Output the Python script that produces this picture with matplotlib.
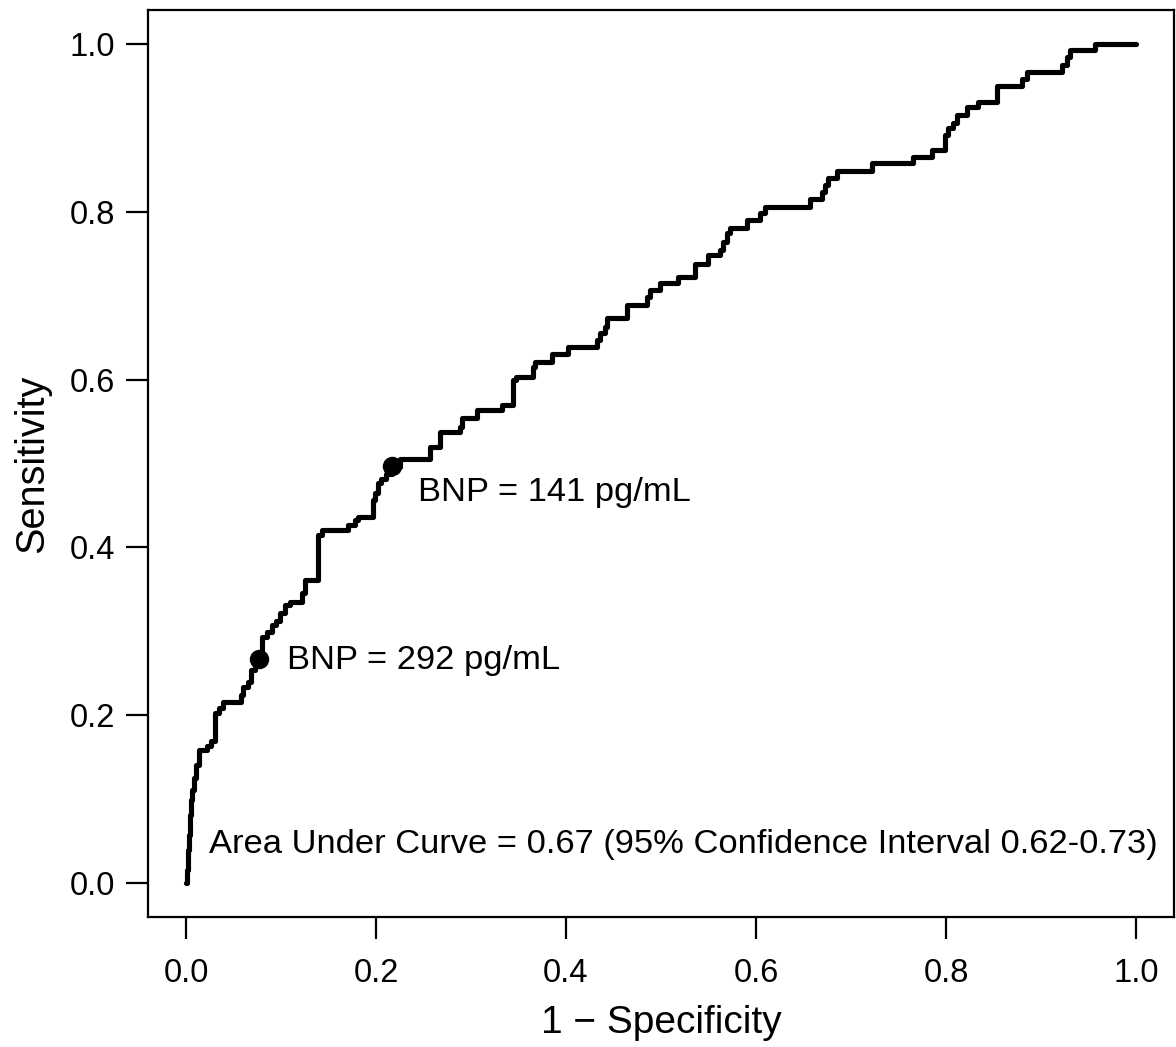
import matplotlib
matplotlib.use("Agg")
import matplotlib.pyplot as plt

plt.rcParams['font.family'] = ['Liberation Sans', 'DejaVu Sans']

# ROC curve: left end of every horizontal run
fpr = [0.000, 0.001, 0.002, 0.003, 0.004, 0.005, 0.006, 0.008, 0.011, 0.014,
       0.022, 0.026, 0.031, 0.035, 0.039, 0.058, 0.060, 0.065, 0.068, 0.073,
       0.077, 0.080, 0.085, 0.091, 0.095, 0.099, 0.104, 0.109, 0.122, 0.125,
       0.139, 0.143, 0.171, 0.178, 0.181, 0.197, 0.199, 0.202, 0.205, 0.211,
       0.217, 0.225, 0.257, 0.267, 0.288, 0.291, 0.306, 0.333, 0.344, 0.347,
       0.365, 0.367, 0.385, 0.402, 0.433, 0.436, 0.441, 0.443, 0.464, 0.485,
       0.488, 0.499, 0.518, 0.536, 0.549, 0.562, 0.565, 0.569, 0.573, 0.591,
       0.604, 0.609, 0.657, 0.669, 0.673, 0.676, 0.685, 0.722, 0.765, 0.785,
       0.799, 0.802, 0.807, 0.812, 0.822, 0.834, 0.854, 0.880, 0.885, 0.922,
       0.927, 0.931, 0.957, 1.000]
tpr = [0.000, 0.016, 0.040, 0.058, 0.082, 0.099, 0.111, 0.126, 0.141, 0.159,
       0.164, 0.170, 0.203, 0.209, 0.216, 0.224, 0.234, 0.240, 0.254, 0.262,
       0.267, 0.293, 0.299, 0.308, 0.312, 0.322, 0.332, 0.335, 0.346, 0.361,
       0.415, 0.421, 0.427, 0.433, 0.436, 0.457, 0.465, 0.477, 0.482, 0.488,
       0.496, 0.505, 0.520, 0.537, 0.543, 0.554, 0.564, 0.570, 0.599, 0.603,
       0.615, 0.621, 0.630, 0.639, 0.647, 0.655, 0.663, 0.673, 0.689, 0.698,
       0.706, 0.715, 0.722, 0.738, 0.748, 0.754, 0.764, 0.774, 0.781, 0.790,
       0.798, 0.805, 0.815, 0.823, 0.832, 0.840, 0.848, 0.858, 0.865, 0.873,
       0.891, 0.899, 0.906, 0.915, 0.924, 0.931, 0.949, 0.958, 0.966, 0.975,
       0.984, 0.992, 1.000, 1.000]

# highlighted cut-offs
cut_fpr = [0.217, 0.077]
cut_tpr = [0.497, 0.267]
cut_labels = ["BNP = 141 pg/mL", "BNP = 292 pg/mL"]
cut_text_pos = [(0.244, 0.466), (0.106, 0.265)]

auc_text = "Area Under Curve = 0.67 (95% Confidence Interval 0.62-0.73)"
ticks = [0.0, 0.2, 0.4, 0.6, 0.8, 1.0]

fig = plt.figure(figsize=(11.76, 10.47), dpi=100)
ax = fig.add_axes([148 / 1176, 130 / 1047, 1026 / 1176, 907 / 1047])

ax.plot(fpr, tpr, drawstyle='steps-post', color='black', lw=3.7,
        solid_joinstyle='round', solid_capstyle='round')
ax.plot(cut_fpr, cut_tpr, 'o', color='black', ms=13)
for lab, (tx, ty) in zip(cut_labels, cut_text_pos):
    ax.text(tx, ty, lab, fontsize=24.8, va='center', ha='left')
ax.text(0.024, 0.046, auc_text, fontsize=24.8, va='center', ha='left')

ax.set_xlim(-0.04, 1.04)
ax.set_ylim(-0.04, 1.04)
ax.set_xticks(ticks)
ax.set_yticks(ticks)
ax.set_xticklabels([f"{t:.1f}" for t in ticks])
ax.set_yticklabels([f"{t:.1f}" for t in ticks])
ax.tick_params(axis='both', direction='out', length=15.5, width=1.6,
               labelsize=23.5)
ax.tick_params(axis='x', pad=14)
ax.tick_params(axis='y', pad=8)
for sp in ax.spines.values():
    sp.set_linewidth(1.6)

ax.set_xlabel("1 \u2212 Specificity", fontsize=28)
ax.set_ylabel("Sensitivity", fontsize=28.5)
ax.xaxis.set_label_coords(0.5, -0.117)
ax.yaxis.set_label_coords(-0.113, 0.5)
ax.xaxis.label.set_va('center')
ax.yaxis.label.set_va('center')

fig.savefig("out.png", dpi=100)
